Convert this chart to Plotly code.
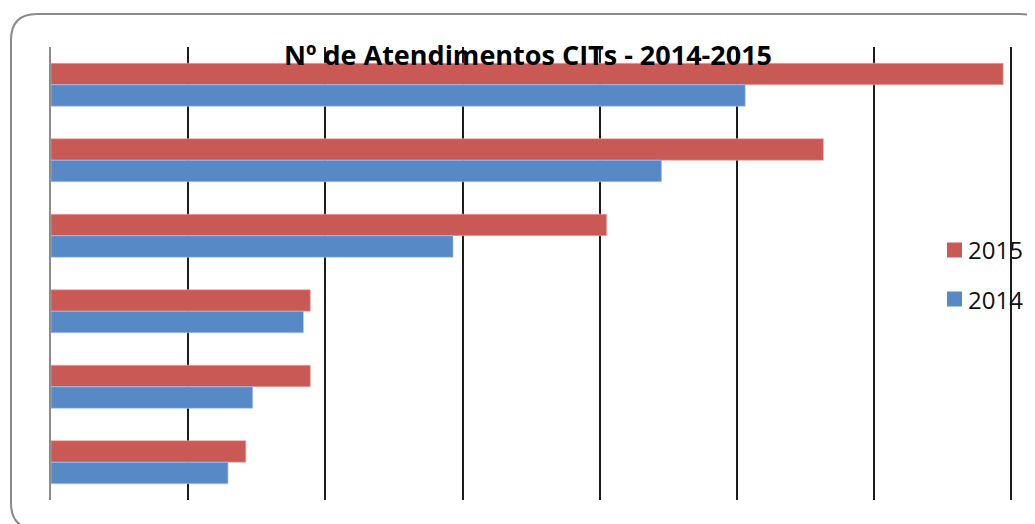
import plotly.graph_objects as go

# ---- data ----
categories = ["CIT A", "CIT B", "CIT C", "CIT D", "CIT E", "CIT F"]  # top to bottom
values_2015 = [6940, 5630, 4050, 1890, 1890, 1420]
values_2014 = [5060, 4450, 2930, 1840, 1470, 1290]
series_names = ["2015", "2014"]
title_text = "Nº de Atendimentos CITs - 2014-2015"
grid_ticks = [1000, 2000, 3000, 4000, 5000, 6000, 7000]

RED = "#C95955"
BLUE = "#5889C7"

OFF = 8  # page body margin
W, H = 1035 - OFF, 524 - OFF
# plot area in page pixels: x 51..1014, y 47..500
PX0, PX1, PY0, PY1 = 51, 1014, 47, 500
L, T = PX0 - OFF, PY0 - OFF
R, B = W - (PX1 - OFF), H - (PY1 - OFF)
PW, PH = PX1 - PX0, PY1 - PY0
XMAX = (PX1 - PX0) / 137.2 * 1000


def px(x):
    return (x - PX0) / PW


def py(y):
    return (PY1 - y) / PH


fig = go.Figure()
fig.add_trace(go.Bar(y=categories, x=values_2015, name=series_names[0], orientation="h",
                     marker=dict(color=RED, line=dict(color="rgba(240,170,170,0.8)", width=0.8)),
                     showlegend=False))
fig.add_trace(go.Bar(y=categories, x=values_2014, name=series_names[1], orientation="h",
                     marker=dict(color=BLUE, line=dict(color="rgba(170,200,240,0.8)", width=0.8)),
                     showlegend=False))

# rounded outer border (page pixel coords)
x0, y0, x1, y1, r = 11, 14, 1046, 529, 26
path = (
    f"M {px(x0+r)},{py(y0)} L {px(x1-r)},{py(y0)} Q {px(x1)},{py(y0)} {px(x1)},{py(y0+r)} "
    f"L {px(x1)},{py(y1-r)} Q {px(x1)},{py(y1)} {px(x1-r)},{py(y1)} "
    f"L {px(x0+r)},{py(y1)} Q {px(x0)},{py(y1)} {px(x0)},{py(y1-r)} "
    f"L {px(x0)},{py(y0+r)} Q {px(x0)},{py(y0)} {px(x0+r)},{py(y0)} Z"
)
shapes = [dict(type="path", xref="paper", yref="paper", path=path,
               line=dict(color="#8a8a8a", width=2), fillcolor="rgba(0,0,0,0)", layer="below")]

# manual legend
legend_rows = [(series_names[0], RED, 250), (series_names[1], BLUE, 299)]
annotations = []
for name, col, yc in legend_rows:
    shapes.append(dict(type="rect", xref="paper", yref="paper",
                       x0=px(947), x1=px(962), y0=py(yc + 7.5), y1=py(yc - 7.5),
                       fillcolor=col, line=dict(width=0)))
    annotations.append(dict(text=name, xref="paper", yref="paper", x=px(966), y=py(yc),
                            xanchor="left", yanchor="middle", showarrow=False,
                            font=dict(family="Open Sans", size=24, color="#111")))

annotations.append(dict(text="<b>" + title_text + "</b>", xref="paper", yref="paper",
                        x=px(528), y=py(55), xanchor="center", yanchor="middle", showarrow=False,
                        font=dict(family="Open Sans", size=27, color="#000")))

fig.update_layout(
    width=W, height=H,
    margin=dict(l=L, r=R, t=T, b=B, pad=0),
    paper_bgcolor="white", plot_bgcolor="white",
    barmode="group", bargap=0.43, bargroupgap=0,
    shapes=shapes, annotations=annotations,
    xaxis=dict(range=[0, XMAX], tickvals=grid_ticks,
               showticklabels=False, showgrid=True, gridcolor="#1c1c1c", gridwidth=2,
               zeroline=False, showline=False, ticks=""),
    yaxis=dict(autorange="reversed", showticklabels=False, showgrid=False, zeroline=False,
               showline=True, linecolor="#8c8c8c", linewidth=2, ticks=""),
    showlegend=False,
)

fig.write_html("out.html")
